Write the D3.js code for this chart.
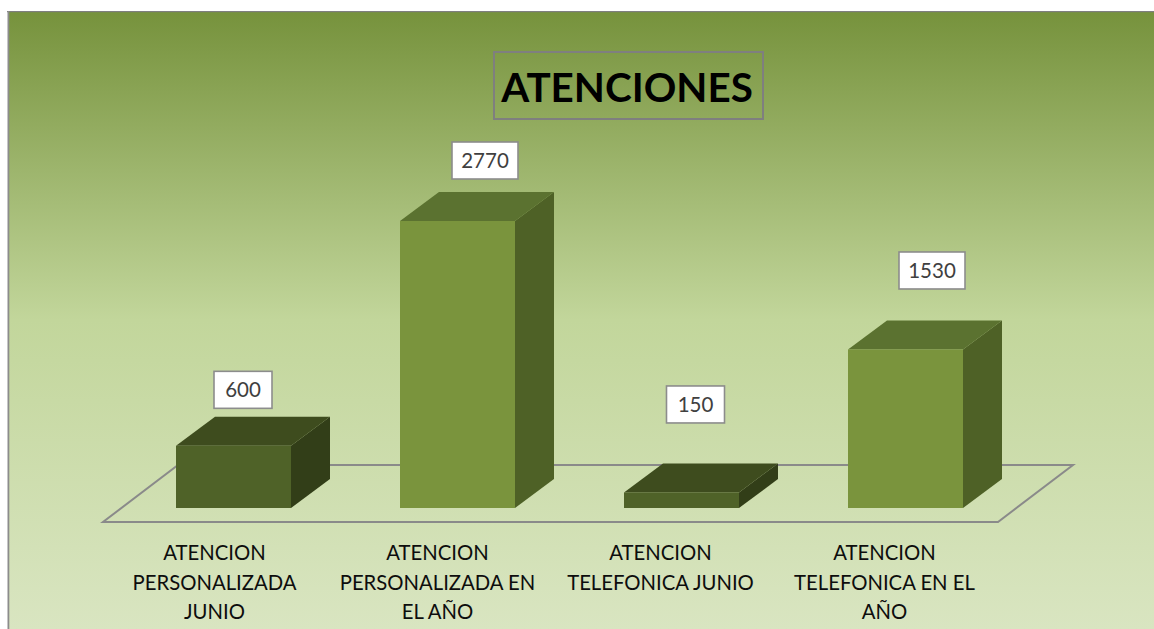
<!DOCTYPE html>
<html><head><meta charset="utf-8">
<script src="https://cdn.jsdelivr.net/npm/d3@7"></script>
<style>html,body{margin:0;padding:0;background:#fff;overflow:hidden}svg{display:block}</style>
</head><body><svg id="c" width="1154" height="629"></svg>
<script>
const categories = ["ATENCION PERSONALIZADA JUNIO","ATENCION PERSONALIZADA EN EL AÑO","ATENCION TELEFONICA JUNIO","ATENCION TELEFONICA EN EL AÑO"];
const categoryLines = [["ATENCION","PERSONALIZADA","JUNIO"],["ATENCION","PERSONALIZADA EN","EL AÑO"],["ATENCION","TELEFONICA JUNIO"],["ATENCION","TELEFONICA EN EL","AÑO"]];
const values = [600,2770,150,1530];
const title = "ATENCIONES";

const W=1154,H=629,dx=39,dy=-29;
const svg=d3.select("#c");
const palettes=[
 {front:"#4f6228",top:"#3e4c1e",side:"#323e18"},
 {front:"#7a943d",top:"#5b7230",side:"#4e6126"}];
const paletteIndex=[0,1,0,1];
// manual label box placement: offset of centre from bar centre, and height above back-top edge
const boxOffsets=[{x:9.5,up:27},{x:27.5,up:31.5},{x:14,up:59},{x:26.5,up:50}];

const x=d3.scaleBand().domain(categories).range([121.5,1017.5]).paddingInner(109/224).paddingOuter(109/448);
const y=d3.scaleLinear().domain([0,2770]).range([508,221]);

const defs=svg.append("defs");
const g=defs.append("linearGradient").attr("id","bg").attr("x1",0).attr("x2",0).attr("y1",0).attr("y2",1);
[[0,"#76923c"],[0.5,"#c2d69b"],[1,"#d9e5c1"]].forEach(s=>g.append("stop").attr("offset",s[0]).attr("stop-color",s[1]));

svg.append("rect").attr("x",8).attr("y",11).attr("width",W-8).attr("height",H-11).attr("fill","url(#bg)");
svg.append("rect").attr("x",7).attr("y",11).attr("width",W-7).attr("height",1.2).attr("fill","#7f7f7f");
svg.append("rect").attr("x",7.5).attr("y",11).attr("width",1.8).attr("height",H-11).attr("fill","#8c8c8c");

// floor
svg.append("path").attr("d",d3.line()([[103,522],[998,522],[1073,465],[178,465]])+"Z")
  .attr("fill","none").attr("stroke","#8a8a8a").attr("stroke-width",2);

// bars
const bars=svg.append("g").selectAll("g").data(categories).join("g");
bars.each(function(c,i){
  const b=d3.select(this),v=values[i],p=palettes[paletteIndex[i]];
  const x0=x(c),x1=x0+x.bandwidth(),y0=y(0),y1=y(v);
  const poly=(pts,f)=>b.append("polygon").attr("points",pts.map(q=>q.join(",")).join(" ")).attr("fill",f);
  poly([[x1,y0],[x1+dx,y0+dy],[x1+dx,y1+dy],[x1,y1]],p.side);
  poly([[x0,y1],[x1,y1],[x1+dx,y1+dy],[x0+dx,y1+dy]],p.top);
  b.append("rect").attr("x",x0).attr("y",y1).attr("width",x.bandwidth()).attr("height",y0-y1).attr("fill",p.front);
});

// value labels
values.forEach((v,i)=>{
  const c=categories[i],w=String(v).length>3?66:58,h=37;
  const cx=x(c)+x.bandwidth()/2+boxOffsets[i].x;
  const cy=y(v)+dy-boxOffsets[i].up;
  svg.append("rect").attr("x",cx-w/2).attr("y",cy-h/2).attr("width",w).attr("height",h)
    .attr("fill","#fff").attr("stroke","#8c8c8c").attr("stroke-width",1.6);
  svg.append("text").attr("x",cx).attr("y",cy).attr("dy","0.35em").attr("text-anchor","middle")
    .attr("font-family","Lato, 'Open Sans', sans-serif").attr("font-size",20.5).attr("fill","#404040").text(v);
});

// category labels
const labelCx=[214.5,437.5,660.5,884.5];
categoryLines.forEach((ls,i)=>{
  ls.forEach((t,j)=>{
    svg.append("text").attr("x",labelCx[i]).attr("y",553+j*29.5).attr("dy","0.35em").attr("text-anchor","middle")
      .attr("font-family","Lato, 'Open Sans', sans-serif").attr("font-size",20.3).attr("fill","#0d0d0d").text(t);
  });
});

// title
svg.append("rect").attr("x",494).attr("y",52).attr("width",269).attr("height",67).attr("fill","none").attr("stroke","#7f7f7f").attr("stroke-width",2);
svg.append("text").attr("x",627).attr("y",88).attr("dy","0.35em").attr("text-anchor","middle")
  .attr("font-family","Lato, 'Open Sans', sans-serif").attr("font-weight",700).attr("font-size",40.4).attr("fill","#000").text(title);
</script></body></html>
